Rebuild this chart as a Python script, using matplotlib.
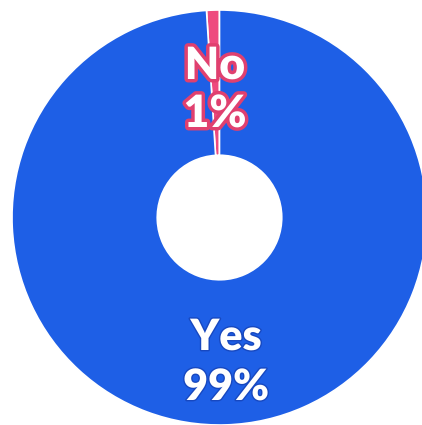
import matplotlib
matplotlib.use("Agg")
import matplotlib.pyplot as plt
import matplotlib.patheffects as pe

labels = ["No", "Yes"]
values = [1, 99]
colors = ["#EE4A7E", "#1E5FE6"]

R = 207.5
cx, cy = 219.5, 217.5
W, H = 422, 425

fig = plt.figure(figsize=(W / 100, H / 100), dpi=100)
ax = fig.add_axes([0, 0, 1, 1])
ax.pie(values, colors=colors, startangle=90, counterclock=True,
       radius=1.0, wedgeprops=dict(width=0.70, edgecolor="white", linewidth=1.2))
ax.set_xlim(-cx / R, (W - cx) / R)
ax.set_ylim(-(H - cy) / R, cy / R)
ax.set_aspect("equal")
ax.axis("off")

font = dict(family=["Lato", "DejaVu Sans"], fontweight="heavy", color="white",
            ha="center", va="center")

def px(x, y):
    return (x - cx) / R, (cy - y) / R

no_fx = [pe.withStroke(linewidth=5, foreground="#E0406F")]
yes_fx = [pe.withStroke(linewidth=2, foreground="#1748C0")]

ax.text(*px(215, 66), labels[0], path_effects=no_fx, fontsize=32, **font)
ax.text(*px(215, 114), f"{values[0]}%", path_effects=no_fx, fontsize=32, **font)
ax.text(*px(226, 337), labels[1], path_effects=yes_fx, fontsize=31, **font)
ax.text(*px(226, 387), f"{values[1]}%", path_effects=yes_fx, fontsize=31, **font)

fig.savefig("out.png", dpi=100)
